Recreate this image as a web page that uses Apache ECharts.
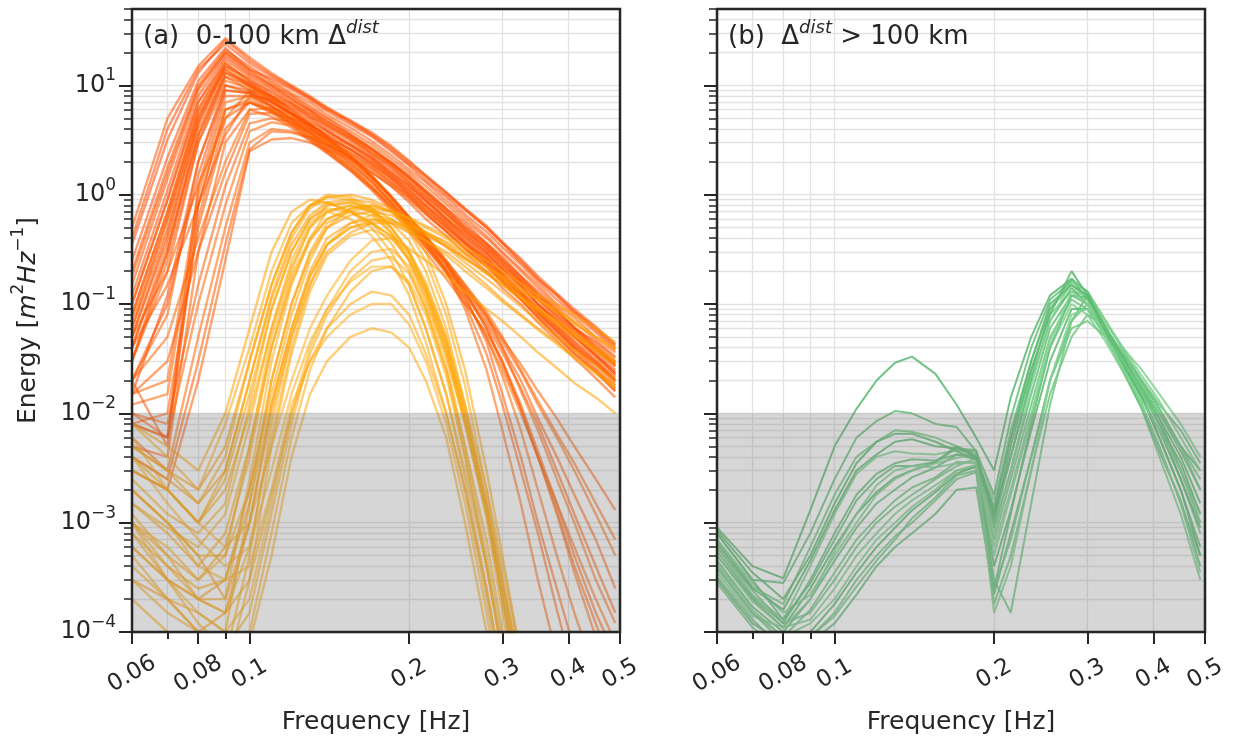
<!DOCTYPE html>
<html>
<head>
<meta charset="utf-8">
<script src="https://cdn.jsdelivr.net/npm/echarts@6/dist/echarts.min.js"></script>
<style>
  html, body { margin: 0; padding: 0; background: #ffffff; }
  #chart { width: 1233px; height: 740px; }
</style>
</head>
<body>
<div id="chart"></div>
<script>
// Frequency bins shared by every spectrum [Hz]
const FREQ = [0.06, 0.07, 0.08, 0.09, 0.1, 0.11, 0.12, 0.13, 0.14, 0.155, 0.17, 0.185,
              0.2, 0.215, 0.235, 0.255, 0.28, 0.3, 0.325, 0.35, 0.38, 0.41, 0.45, 0.49];

// Axis ticks
const X_MAJOR = [0.06, 0.08, 0.1, 0.2, 0.3, 0.4, 0.5];
const X_MINOR = [0.07, 0.09];
const Y_MAJOR = [1e-4, 1e-3, 1e-2, 1e-1, 1, 10];

// Panel (a), 0-100 km: energy density [m^2/Hz] per frequency bin
// wind sea peaking at 0.09 Hz
const windSeaSharp = [
  [0.35, 3.2, 13, 26, 17, 12.5, 9.8, 7.6, 6.2, 4.6, 3.5, 2.6, 1.9, 1.45, 1.0, 0.72, 0.5, 0.36, 0.24, 0.17, 0.12, 0.085, 0.058, 0.04],
  [0.2, 1.8, 10, 21, 15, 11, 8.5, 7, 5.4, 4.1, 3.1, 2.3, 1.7, 1.3, 0.88, 0.62, 0.42, 0.3, 0.21, 0.15, 0.1, 0.075, 0.05, 0.036],
  [0.12, 1.1, 8, 19, 13, 10, 8, 6.2, 5, 3.6, 2.7, 2.0, 1.5, 1.1, 0.75, 0.55, 0.36, 0.27, 0.18, 0.13, 0.09, 0.06, 0.045, 0.032],
  [0.08, 0.7, 6, 17, 12, 9.2, 7.2, 5.8, 4.4, 3.3, 2.4, 1.8, 1.3, 0.95, 0.66, 0.47, 0.32, 0.23, 0.16, 0.11, 0.078, 0.055, 0.038, 0.027],
  [0.05, 0.4, 4.5, 15, 11.5, 8.5, 6.8, 5.2, 4.1, 3.1, 2.3, 1.7, 1.25, 0.9, 0.6, 0.44, 0.3, 0.21, 0.15, 0.1, 0.07, 0.05, 0.034, 0.024],
  [0.03, 0.25, 3, 12, 10, 7.8, 6, 4.8, 3.8, 2.8, 2.1, 1.5, 1.1, 0.8, 0.55, 0.38, 0.26, 0.19, 0.13, 0.09, 0.063, 0.045, 0.03, 0.021],
  [0.015, 0.12, 2, 10, 9, 7, 5.6, 4.4, 3.4, 2.6, 1.9, 1.4, 1.0, 0.72, 0.5, 0.36, 0.24, 0.17, 0.12, 0.082, 0.057, 0.04, 0.028, 0.02],
  [0.008, 0.006, 1.2, 8, 8, 6.5, 5, 4, 3.2, 2.4, 1.8, 1.3, 0.95, 0.68, 0.46, 0.32, 0.22, 0.16, 0.11, 0.075, 0.05, 0.035, 0.024, 0.016],
  [0.25, 2.2, 11, 22, 14, 11.5, 9.2, 7.4, 5.8, 4.4, 3.4, 2.5, 1.85, 1.35, 0.95, 0.66, 0.46, 0.33, 0.23, 0.16, 0.11, 0.08, 0.055, 0.038],
  [0.02, 0.005, 0.8, 6, 7, 6, 4.7, 3.7, 2.9, 2.2, 1.6, 1.2, 0.85, 0.6, 0.42, 0.29, 0.2, 0.14, 0.1, 0.068, 0.046, 0.032, 0.021, 0.014],
  [0.4, 4, 14, 24, 16, 12, 9.5, 7.8, 6.0, 4.7, 3.6, 2.7, 2.0, 1.5, 1.05, 0.75, 0.52, 0.37, 0.26, 0.18, 0.125, 0.09, 0.062, 0.043],
  [0.15, 1.4, 9, 20, 14, 10.5, 8.2, 6.5, 5.1, 3.8, 2.9, 2.15, 1.6, 1.2, 0.82, 0.58, 0.4, 0.29, 0.2, 0.14, 0.095, 0.068, 0.047, 0.033],
  [0.1, 0.9, 7, 18, 12.5, 9.6, 7.5, 5.9, 4.7, 3.5, 2.6, 1.95, 1.45, 1.05, 0.72, 0.5, 0.35, 0.25, 0.17, 0.12, 0.085, 0.06, 0.041, 0.029],
  [0.06, 0.5, 5, 16, 11, 8.8, 6.9, 5.5, 4.3, 3.2, 2.4, 1.8, 1.3, 0.97, 0.67, 0.47, 0.33, 0.24, 0.16, 0.115, 0.08, 0.057, 0.039, 0.027],
  [0.04, 0.3, 3.5, 13, 10.5, 8, 6.3, 5, 3.9, 2.9, 2.2, 1.6, 1.2, 0.88, 0.6, 0.42, 0.29, 0.21, 0.145, 0.1, 0.07, 0.05, 0.034, 0.023],
  [0.5, 5, 15, 27, 18, 13, 10, 8, 6.3, 4.8, 3.7, 2.8, 2.05, 1.5, 1.05, 0.74, 0.5, 0.36, 0.25, 0.17, 0.12, 0.085, 0.06, 0.042],
  [0.02, 0.1, 1.5, 9, 8.5, 7, 5.5, 4.4, 3.5, 2.6, 1.95, 1.45, 1.05, 0.78, 0.53, 0.37, 0.26, 0.18, 0.125, 0.086, 0.06, 0.042, 0.029, 0.02],
  [0.18, 1.6, 9.5, 20, 13.5, 10, 7.6, 6, 4.7, 3.5, 2.6, 1.9, 1.4, 1.0, 0.68, 0.47, 0.32, 0.23, 0.16, 0.11, 0.075, 0.053, 0.036, 0.025]
];

// wind sea peaking at 0.10-0.11 Hz
const windSeaBroad = [
  [0.04, 0.15, 0.8, 3.5, 8, 7.5, 6.5, 5.2, 4.3, 3.3, 2.5, 1.9, 1.4, 1.05, 0.72, 0.5, 0.34, 0.25, 0.17, 0.12, 0.085, 0.06, 0.04, 0.028],
  [0.02, 0.05, 0.4, 2, 6, 6.2, 5.5, 4.6, 3.8, 2.9, 2.2, 1.6, 1.2, 0.9, 0.62, 0.44, 0.3, 0.22, 0.15, 0.1, 0.072, 0.05, 0.034, 0.023],
  [0.01, 0.008, 0.15, 1.2, 4.5, 5, 4.6, 3.9, 3.3, 2.6, 2.0, 1.5, 1.1, 0.8, 0.56, 0.4, 0.27, 0.19, 0.13, 0.09, 0.062, 0.043, 0.03, 0.02],
  [0.006, 0.003, 0.05, 0.5, 3, 4, 3.8, 3.4, 2.9, 2.3, 1.75, 1.3, 0.98, 0.72, 0.5, 0.35, 0.24, 0.17, 0.12, 0.082, 0.056, 0.039, 0.026, 0.018],
  [0.003, 0.002, 0.02, 0.25, 2.5, 3.2, 3.3, 3, 2.6, 2.1, 1.6, 1.2, 0.9, 0.66, 0.46, 0.32, 0.22, 0.16, 0.11, 0.075, 0.05, 0.035, 0.024, 0.016],
  [0.05, 0.2, 1.2, 5, 9, 8, 6.8, 5.5, 4.5, 3.4, 2.6, 1.95, 1.45, 1.08, 0.75, 0.52, 0.36, 0.26, 0.18, 0.125, 0.088, 0.062, 0.043, 0.03],
  [0.015, 0.03, 0.3, 1.6, 5.5, 5.6, 5, 4.3, 3.6, 2.8, 2.1, 1.55, 1.15, 0.85, 0.58, 0.41, 0.28, 0.2, 0.14, 0.095, 0.066, 0.046, 0.032, 0.022],
  [0.008, 0.006, 0.1, 0.8, 3.8, 4.6, 4.3, 3.7, 3.1, 2.45, 1.85, 1.4, 1.02, 0.75, 0.52, 0.36, 0.25, 0.18, 0.125, 0.085, 0.058, 0.04, 0.028, 0.019],
  [0.004, 0.0025, 0.03, 0.35, 2.6, 3.8, 3.7, 3.3, 2.8, 2.2, 1.7, 1.25, 0.94, 0.68, 0.47, 0.33, 0.23, 0.16, 0.11, 0.078, 0.053, 0.037, 0.025, 0.017]
];

// wind sea whose high-frequency tail collapses
const windSeaShortTail = [
  [0.1, 0.9, 7, 16, 11, 8, 6, 4.5, 3.4, 2.3, 1.5, 0.95, 0.6, 0.38, 0.2, 0.09, 0.025, 0.007, 1.5e-3, 3e-4, 6e-5, 3e-5, 1e-5, 5e-6],
  [0.03, 0.3, 4, 12, 9, 6.5, 5, 3.8, 2.9, 2, 1.35, 0.85, 0.55, 0.36, 0.2, 0.1, 0.035, 0.012, 3e-3, 8e-4, 1.6e-4, 4e-5, 1e-5, 5e-6],
  [0.015, 0.02, 1, 7, 8, 6, 4.6, 3.5, 2.6, 1.8, 1.2, 0.8, 0.5, 0.33, 0.19, 0.11, 0.05, 0.022, 7e-3, 2e-3, 5e-4, 1.5e-4, 4e-5, 1e-5],
  [0.005, 0.004, 0.3, 3, 6, 5.2, 4.1, 3.1, 2.4, 1.65, 1.1, 0.72, 0.46, 0.3, 0.17, 0.1, 0.055, 0.03, 0.012, 4.5e-3, 1.5e-3, 5e-4, 1.5e-4, 6e-5],
  [0.06, 0.6, 5, 14, 10, 7.5, 5.5, 4.2, 3.2, 2.2, 1.45, 0.95, 0.62, 0.42, 0.25, 0.15, 0.08, 0.04, 0.016, 7e-3, 2.5e-3, 1e-3, 3e-4, 1.2e-4],
  [0.008, 0.01, 0.5, 4, 7, 5.8, 4.4, 3.3, 2.5, 1.7, 1.15, 0.78, 0.52, 0.35, 0.21, 0.13, 0.07, 0.04, 0.02, 9e-3, 4e-3, 1.8e-3, 7e-4, 2.5e-4],
  [0.04, 0.35, 3.5, 11, 9.5, 7, 5.3, 4, 3, 2.1, 1.4, 0.92, 0.6, 0.4, 0.24, 0.14, 0.075, 0.045, 0.024, 0.012, 6e-3, 3e-3, 1.2e-3, 5e-4],
  [0.08, 0.7, 6, 15, 10.5, 7.8, 5.8, 4.4, 3.3, 2.25, 1.5, 0.98, 0.63, 0.41, 0.23, 0.12, 0.045, 0.015, 4e-3, 1e-3, 2.5e-4, 7e-5, 2e-5, 5e-6],
  [0.02, 0.08, 2, 9, 8.5, 6.3, 4.8, 3.6, 2.7, 1.9, 1.3, 0.85, 0.55, 0.37, 0.22, 0.13, 0.06, 0.03, 0.011, 4e-3, 1.2e-3, 3.5e-4, 9e-5, 3e-5],
  [0.01, 0.006, 0.6, 5, 7, 5.6, 4.3, 3.2, 2.45, 1.7, 1.15, 0.76, 0.5, 0.33, 0.2, 0.12, 0.065, 0.036, 0.017, 8e-3, 3e-3, 1.2e-3, 4e-4, 1.5e-4],
  [0.05, 0.45, 4.5, 13, 9.8, 7.2, 5.4, 4.1, 3.1, 2.15, 1.45, 0.95, 0.62, 0.42, 0.25, 0.15, 0.085, 0.05, 0.025, 0.013, 6.5e-3, 3.5e-3, 1.5e-3, 7e-4],
  [0.03, 0.2, 3, 10, 8.5, 6.4, 4.9, 3.7, 2.8, 1.95, 1.3, 0.86, 0.56, 0.38, 0.23, 0.14, 0.078, 0.048, 0.028, 0.016, 9e-3, 5e-3, 2.5e-3, 1.3e-3],
  [0.012, 0.015, 0.8, 6, 7.5, 5.8, 4.5, 3.4, 2.6, 1.8, 1.2, 0.8, 0.52, 0.35, 0.2, 0.11, 0.05, 0.025, 0.01, 4e-3, 1.5e-3, 6e-4, 2e-4, 8e-5],
  [0.07, 0.6, 5.5, 14, 10, 7.4, 5.5, 4.2, 3.2, 2.2, 1.45, 0.95, 0.62, 0.41, 0.24, 0.13, 0.06, 0.028, 0.011, 4e-3, 1.3e-3, 4e-4, 1.2e-4, 4e-5]
];

// swell with a wind-sea tail
const swellMixed = [
  [5e-3, 3e-3, 2e-3, 5e-3, 0.03, 0.15, 0.45, 0.8, 0.95, 1.0, 0.9, 0.75, 0.6, 0.45, 0.33, 0.24, 0.17, 0.13, 0.095, 0.07, 0.05, 0.038, 0.028, 0.02],
  [1e-3, 5e-4, 3e-4, 6e-4, 4e-3, 0.04, 0.18, 0.4, 0.6, 0.75, 0.8, 0.7, 0.6, 0.5, 0.4, 0.3, 0.22, 0.17, 0.13, 0.11, 0.09, 0.07, 0.05, 0.04],
  [2e-3, 1e-3, 5e-4, 2e-4, 1e-3, 0.01, 0.05, 0.15, 0.3, 0.45, 0.55, 0.55, 0.5, 0.42, 0.34, 0.26, 0.2, 0.16, 0.12, 0.09, 0.07, 0.052, 0.038, 0.03],
  [8e-3, 5e-3, 3e-3, 0.01, 0.06, 0.3, 0.7, 0.9, 0.85, 0.7, 0.55, 0.42, 0.32, 0.25, 0.18, 0.13, 0.09, 0.07, 0.05, 0.036, 0.026, 0.019, 0.014, 0.01],
  [3e-4, 2e-4, 1e-4, 1.5e-4, 1e-3, 0.012, 0.06, 0.2, 0.4, 0.55, 0.6, 0.55, 0.45, 0.38, 0.3, 0.22, 0.15, 0.11, 0.08, 0.06, 0.045, 0.033, 0.024, 0.018],
  [3e-3, 2e-3, 1e-3, 2.5e-3, 0.015, 0.09, 0.3, 0.6, 0.8, 0.85, 0.75, 0.6, 0.48, 0.38, 0.28, 0.2, 0.14, 0.105, 0.078, 0.058, 0.043, 0.032, 0.023, 0.017],
  [6e-4, 3e-4, 2e-4, 3e-4, 2e-3, 0.02, 0.1, 0.28, 0.5, 0.65, 0.7, 0.65, 0.55, 0.46, 0.36, 0.27, 0.19, 0.15, 0.11, 0.085, 0.065, 0.05, 0.037, 0.028],
  [1.5e-3, 8e-4, 4e-4, 8e-4, 5e-3, 0.04, 0.16, 0.38, 0.6, 0.72, 0.75, 0.7, 0.62, 0.52, 0.42, 0.33, 0.25, 0.2, 0.155, 0.12, 0.1, 0.08, 0.06, 0.045],
  [4e-3, 2.5e-3, 1.5e-3, 3e-3, 0.02, 0.11, 0.35, 0.65, 0.85, 0.9, 0.85, 0.7, 0.55, 0.44, 0.34, 0.26, 0.19, 0.15, 0.115, 0.09, 0.07, 0.055, 0.04, 0.03],
  [8e-4, 4e-4, 2.5e-4, 3e-4, 1.5e-3, 0.012, 0.06, 0.18, 0.35, 0.5, 0.58, 0.58, 0.52, 0.45, 0.37, 0.29, 0.22, 0.18, 0.14, 0.11, 0.085, 0.066, 0.05, 0.038]
];

// swell peaking at 0.13-0.185 Hz
const swellMain = [
  [3e-3, 2e-3, 1e-3, 3e-3, 0.02, 0.12, 0.4, 0.75, 0.95, 0.9, 0.7, 0.45, 0.25, 0.11, 0.035, 8e-3, 1.2e-3, 2.5e-4, 4e-5, 1e-5, 5e-6, 5e-6, 5e-6, 5e-6],
  [1e-3, 6e-4, 3e-4, 5e-4, 5e-3, 0.05, 0.2, 0.5, 0.8, 0.85, 0.75, 0.5, 0.3, 0.15, 0.05, 0.012, 2e-3, 4e-4, 6e-5, 1e-5, 5e-6, 5e-6, 5e-6, 5e-6],
  [4e-4, 2e-4, 1.5e-4, 1e-4, 1.5e-3, 0.02, 0.1, 0.3, 0.55, 0.7, 0.65, 0.45, 0.28, 0.13, 0.04, 9e-3, 1.3e-3, 2e-4, 3e-5, 5e-6, 5e-6, 5e-6, 5e-6, 5e-6],
  [8e-3, 4e-3, 2e-3, 8e-3, 0.04, 0.2, 0.55, 0.8, 0.85, 0.7, 0.5, 0.3, 0.15, 0.06, 0.015, 3e-3, 4e-4, 7e-5, 1e-5, 5e-6, 5e-6, 5e-6, 5e-6, 5e-6],
  [2e-4, 1e-4, 5e-5, 6e-5, 5e-4, 8e-3, 0.05, 0.18, 0.35, 0.5, 0.55, 0.42, 0.25, 0.12, 0.035, 8e-3, 1.1e-3, 1.5e-4, 2e-5, 5e-6, 5e-6, 5e-6, 5e-6, 5e-6],
  [1.5e-3, 9e-4, 6e-4, 1.2e-3, 8e-3, 0.06, 0.25, 0.55, 0.7, 0.6, 0.42, 0.25, 0.12, 0.045, 0.01, 2e-3, 2.5e-4, 4e-5, 5e-6, 5e-6, 5e-6, 5e-6, 5e-6, 5e-6],
  [5e-3, 3e-3, 1.5e-3, 4e-3, 0.03, 0.15, 0.45, 0.8, 1.0, 0.95, 0.75, 0.5, 0.3, 0.14, 0.045, 0.01, 1.5e-3, 3e-4, 5e-5, 1e-5, 5e-6, 5e-6, 5e-6, 5e-6],
  [6e-4, 3e-4, 2e-4, 2e-4, 2.5e-3, 0.03, 0.15, 0.4, 0.7, 0.8, 0.7, 0.5, 0.3, 0.14, 0.045, 0.01, 1.5e-3, 2.5e-4, 4e-5, 5e-6, 5e-6, 5e-6, 5e-6, 5e-6],
  [2.5e-3, 1.2e-3, 8e-4, 1.5e-3, 0.012, 0.09, 0.3, 0.6, 0.75, 0.7, 0.55, 0.36, 0.2, 0.09, 0.025, 5e-3, 7e-4, 1e-4, 1.5e-5, 5e-6, 5e-6, 5e-6, 5e-6, 5e-6],
  [1e-4, 6e-5, 4e-5, 4e-5, 3e-4, 5e-3, 0.035, 0.13, 0.28, 0.42, 0.48, 0.4, 0.26, 0.13, 0.04, 9e-3, 1.3e-3, 2e-4, 3e-5, 5e-6, 5e-6, 5e-6, 5e-6, 5e-6],
  [2e-3, 1e-3, 5e-4, 5e-4, 2e-3, 0.015, 0.08, 0.25, 0.5, 0.75, 0.8, 0.7, 0.5, 0.3, 0.1, 0.025, 3e-3, 5e-4, 6e-5, 1e-5, 5e-6, 5e-6, 5e-6, 5e-6],
  [1e-3, 4e-4, 2e-4, 1.5e-4, 6e-4, 6e-3, 0.04, 0.15, 0.35, 0.55, 0.65, 0.6, 0.45, 0.25, 0.08, 0.018, 2e-3, 3e-4, 4e-5, 5e-6, 5e-6, 5e-6, 5e-6, 5e-6],
  [4e-3, 2e-3, 1e-3, 2e-3, 0.01, 0.06, 0.22, 0.5, 0.7, 0.8, 0.7, 0.55, 0.38, 0.2, 0.06, 0.012, 1.5e-3, 2e-4, 3e-5, 5e-6, 5e-6, 5e-6, 5e-6, 5e-6]
];

// weaker swell peaking near 0.17-0.185 Hz
const swellLate = [
  [1e-3, 3e-4, 1.5e-4, 1e-4, 2e-4, 1.5e-3, 0.01, 0.04, 0.09, 0.2, 0.3, 0.32, 0.22, 0.1, 0.03, 5e-3, 5e-4, 8e-5, 1e-5, 5e-6, 5e-6, 5e-6, 5e-6, 5e-6],
  [5e-4, 2e-4, 1e-4, 5e-5, 1e-4, 8e-4, 6e-3, 0.025, 0.06, 0.13, 0.2, 0.22, 0.15, 0.06, 0.015, 2.5e-3, 2.5e-4, 4e-5, 5e-6, 5e-6, 5e-6, 5e-6, 5e-6, 5e-6],
  [2e-3, 1e-3, 4e-4, 3e-4, 4e-4, 2e-3, 0.012, 0.03, 0.05, 0.08, 0.1, 0.1, 0.065, 0.03, 8e-3, 1.5e-3, 1.5e-4, 2e-5, 5e-6, 5e-6, 5e-6, 5e-6, 5e-6, 5e-6],
  [3e-4, 1.5e-4, 1e-4, 6e-5, 8e-5, 5e-4, 4e-3, 0.015, 0.03, 0.05, 0.06, 0.055, 0.04, 0.02, 6e-3, 1e-3, 1e-4, 1e-5, 5e-6, 5e-6, 5e-6, 5e-6, 5e-6, 5e-6],
  [6e-3, 2e-3, 1e-3, 6e-4, 1e-3, 5e-3, 0.02, 0.06, 0.12, 0.25, 0.38, 0.4, 0.3, 0.16, 0.05, 0.01, 1.3e-3, 2e-4, 2e-5, 5e-6, 5e-6, 5e-6, 5e-6, 5e-6],
  [8e-4, 3e-4, 1.2e-4, 7e-5, 1.5e-4, 1.2e-3, 8e-3, 0.035, 0.08, 0.17, 0.25, 0.27, 0.19, 0.09, 0.025, 4e-3, 4e-4, 6e-5, 1e-5, 5e-6, 5e-6, 5e-6, 5e-6, 5e-6],
  [4e-3, 1.5e-3, 7e-4, 4e-4, 6e-4, 3e-3, 0.015, 0.045, 0.09, 0.16, 0.22, 0.22, 0.16, 0.08, 0.022, 4e-3, 4e-4, 6e-5, 1e-5, 5e-6, 5e-6, 5e-6, 5e-6, 5e-6],
  [1.2e-3, 5e-4, 2e-4, 1.5e-4, 3e-4, 1.8e-3, 0.01, 0.03, 0.06, 0.1, 0.13, 0.12, 0.08, 0.035, 0.01, 2e-3, 2e-4, 3e-5, 5e-6, 5e-6, 5e-6, 5e-6, 5e-6, 5e-6]
];

// Panel (b), beyond 100 km
const remoteSpectra = [
  [9e-4, 4e-4, 3.1e-4, 1.3e-3, 5e-3, 1.1e-2, 2e-2, 2.9e-2, 3.3e-2, 2.3e-2, 1.2e-2, 6e-3, 3e-3, 1.4e-2, 5e-2, 1.2e-1, 1.7e-1, 1.1e-1, 6e-2, 3.5e-2, 1.9e-2, 1.1e-2, 5e-3, 3e-3],
  [8e-4, 3e-4, 2.8e-4, 8e-4, 2.5e-3, 6e-3, 8.5e-3, 1.05e-2, 1e-2, 8e-3, 7.5e-3, 4.5e-3, 1.8e-3, 9e-3, 4e-2, 1.1e-1, 1.6e-1, 1.3e-1, 7e-2, 3.8e-2, 2e-2, 1.2e-2, 7e-3, 3.5e-3],
  [7e-4, 2.6e-4, 1.8e-4, 6e-4, 1.8e-3, 4e-3, 5.5e-3, 7e-3, 6.8e-3, 6e-3, 5e-3, 4e-3, 1.4e-3, 7e-3, 3e-2, 9e-2, 1.5e-1, 1.1e-1, 6e-2, 3e-2, 1.5e-2, 8e-3, 2.5e-3, 8e-4],
  [6e-4, 2.2e-4, 1.3e-4, 4e-4, 1.2e-3, 2.8e-3, 4e-3, 4.5e-3, 4.3e-3, 4.2e-3, 4.6e-3, 4.5e-3, 1.6e-3, 6e-3, 2.5e-2, 8e-2, 1.3e-1, 1.2e-1, 6.5e-2, 4e-2, 2.2e-2, 1.3e-2, 6e-3, 3e-3],
  [5e-4, 2e-4, 1.1e-4, 2.5e-4, 6e-4, 1.2e-3, 1.9e-3, 2.6e-3, 3e-3, 3.6e-3, 5e-3, 4.2e-3, 1.2e-3, 4e-3, 2e-2, 7e-2, 1.4e-1, 1e-1, 5.5e-2, 3e-2, 1.6e-2, 9e-3, 4e-3, 1.5e-3],
  [4.5e-4, 1.7e-4, 1e-4, 2e-4, 4.5e-4, 9e-4, 1.5e-3, 2e-3, 2.6e-3, 3.2e-3, 4.2e-3, 3.8e-3, 9e-4, 3e-3, 1.5e-2, 6e-2, 1.2e-1, 1.15e-1, 6e-2, 3.2e-2, 1.7e-2, 1e-2, 4.5e-3, 2e-3],
  [4e-4, 1.5e-4, 9e-5, 1.6e-4, 3.5e-4, 7e-4, 1.1e-3, 1.6e-3, 2.1e-3, 2.6e-3, 3.6e-3, 3.5e-3, 7e-4, 2.5e-3, 1.2e-2, 5e-2, 1.1e-1, 9e-2, 5e-2, 2.6e-2, 1.2e-2, 5e-3, 1.5e-3, 5e-4],
  [3.5e-4, 1.4e-4, 1.1e-4, 1.3e-4, 2.5e-4, 5e-4, 8e-4, 1.2e-3, 1.6e-3, 2.2e-3, 3e-3, 3.2e-3, 5e-4, 1.8e-3, 9e-3, 4e-2, 1e-1, 8e-2, 4.5e-2, 2.4e-2, 1.1e-2, 4e-3, 1.2e-3, 3e-4],
  [3e-4, 1.2e-4, 8e-5, 1e-4, 1.8e-4, 3.5e-4, 6e-4, 9e-4, 1.3e-3, 1.9e-3, 2.8e-3, 3.3e-3, 4e-4, 1.3e-3, 7e-3, 3e-2, 9e-2, 9e-2, 5e-2, 2.8e-2, 1.4e-2, 7e-3, 2.5e-3, 9e-4],
  [3.2e-4, 1.3e-4, 7e-5, 8e-5, 1.2e-4, 2.2e-4, 4e-4, 6e-4, 8e-4, 1.2e-3, 2e-3, 2.1e-3, 2.2e-4, 8e-4, 4e-3, 2e-2, 7e-2, 1.2e-1, 6e-2, 3e-2, 1.4e-2, 6e-3, 2e-3, 6e-4],
  [6e-4, 2.4e-4, 1.2e-4, 1.5e-4, 3e-4, 6e-4, 1e-3, 1.4e-3, 1.8e-3, 2.5e-3, 3.3e-3, 3.9e-3, 3e-4, 1.5e-4, 1.5e-3, 1.2e-2, 7e-2, 1e-1, 5.5e-2, 3.3e-2, 1.8e-2, 1e-2, 5e-3, 2.5e-3],
  [7e-4, 2.8e-4, 1.5e-4, 2.2e-4, 5e-4, 1e-3, 1.8e-3, 2.5e-3, 3e-3, 3.5e-3, 3.9e-3, 4.3e-3, 8e-4, 3e-3, 1.8e-2, 7e-2, 1.6e-1, 1.3e-1, 7e-2, 4e-2, 2.5e-2, 1.5e-2, 8e-3, 4e-3],
  [8.5e-4, 3.5e-4, 2e-4, 5e-4, 1.5e-3, 3.5e-3, 5.5e-3, 6.5e-3, 6.5e-3, 5.5e-3, 4.5e-3, 3.8e-3, 1.1e-3, 5e-3, 2.5e-2, 8e-2, 2e-1, 1.2e-1, 5.5e-2, 2.8e-2, 1.4e-2, 6e-3, 2e-3, 5e-4],
  [5.5e-4, 2.1e-4, 1.2e-4, 3e-4, 8e-4, 1.8e-3, 2.8e-3, 3.5e-3, 3.8e-3, 3.7e-3, 4.2e-3, 4e-3, 2.5e-4, 1.2e-3, 8e-3, 4e-2, 1.2e-1, 1e-1, 5e-2, 2.5e-2, 1.1e-2, 4.5e-3, 1.6e-3, 4e-4],
  [3.8e-4, 1.5e-4, 8e-5, 9e-5, 1.5e-4, 3e-4, 5e-4, 7.5e-4, 1e-3, 1.6e-3, 2.5e-3, 2.9e-3, 1.8e-4, 5e-4, 3e-3, 1.5e-2, 5e-2, 8e-2, 6e-2, 3.5e-2, 2e-2, 1.1e-2, 5e-3, 2e-3],
  [4.2e-4, 1.6e-4, 9e-5, 1.2e-4, 2e-4, 4e-4, 7e-4, 1e-3, 1.4e-3, 2e-3, 3e-3, 3.4e-3, 6e-4, 2e-3, 1e-2, 4.5e-2, 1.3e-1, 1e-1, 5e-2, 2.6e-2, 1.2e-2, 5e-3, 1.5e-3, 3.5e-4],
  [6.5e-4, 2.5e-4, 1.6e-4, 4.5e-4, 1.3e-3, 3e-3, 4.2e-3, 5.5e-3, 5.8e-3, 5e-3, 4.8e-3, 4e-3, 1.3e-3, 6e-3, 3e-2, 1e-1, 1.5e-1, 1.2e-1, 6e-2, 3.3e-2, 1.6e-2, 8e-3, 3.5e-3, 1.2e-3],
  [8e-4, 3e-4, 1.3e-4, 2.8e-4, 7e-4, 1.6e-3, 2.5e-3, 3.3e-3, 3.3e-3, 3.6e-3, 4.8e-3, 4.6e-3, 1e-3, 4e-3, 2.2e-2, 9e-2, 1.7e-1, 1.3e-1, 6e-2, 3e-2, 1.7e-2, 9e-3, 3e-3, 1e-3],
  [2.8e-4, 1.1e-4, 7e-5, 9e-5, 1.4e-4, 2.6e-4, 4.5e-4, 7e-4, 1.1e-3, 1.7e-3, 2.7e-3, 3e-3, 2.5e-4, 7e-4, 4e-3, 2e-2, 6e-2, 7e-2, 5e-2, 3e-2, 1.6e-2, 8e-3, 3e-3, 1.2e-3],
  [5e-4, 1.9e-4, 1.1e-4, 2e-4, 5.5e-4, 1.2e-3, 2.2e-3, 3e-3, 3.3e-3, 3.2e-3, 3.5e-3, 3.6e-3, 1.5e-4, 4e-4, 3e-3, 2e-2, 8e-2, 9e-2, 5e-2, 2.6e-2, 1.3e-2, 7e-3, 3e-3, 1e-3]
];

const INK = '#262626';
const FONT = 'DejaVu Sans';
const GRID_COLOR = '#e2e2e2';

// minor log ticks 2..9 per decade, up to the 50 m^2/Hz ceiling
const Y_MINOR = [];
for (let e = -4; e <= 1; e++) {
  for (let m = 2; m <= 9; m++) {
    const v = m * Math.pow(10, e);
    if (v <= 50) Y_MINOR.push(+v.toPrecision(3));
  }
}

const PANELS = [
  { left: 132, top: 9, width: 488, height: 623 },
  { left: 717, top: 9, width: 488, height: 623 }
];

function powLabel(v) {
  const e = Math.round(Math.log10(v));
  return '{b|10}{s|' + String(e).replace('-', '\u2212') + '}';
}

function xAxes(g) {
  const common = {
    gridIndex: g, type: 'log', logBase: 10, min: 0.06, max: 0.5, position: 'bottom',
    axisLine: { show: false },
    splitLine: { show: true, lineStyle: { color: GRID_COLOR, width: 1.3 } },
    minorTick: { show: false }, minorSplitLine: { show: false }
  };
  return [
    Object.assign({}, common, {
      axisTick: { show: true, inside: false, length: 12, customValues: X_MAJOR, lineStyle: { color: INK, width: 2 } },
      axisLabel: {
        show: true, customValues: X_MAJOR, rotate: 30, align: 'center', verticalAlign: 'middle',
        margin: 42, fontSize: 23, color: INK, fontFamily: FONT, showMinLabel: true, showMaxLabel: true,
        formatter: v => String(parseFloat(Number(v).toPrecision(4)))
      },
      name: 'Frequency [Hz]', nameLocation: 'middle', nameGap: 78,
      nameTextStyle: { fontSize: 25, color: INK, fontFamily: FONT }
    }),
    Object.assign({}, common, {
      axisTick: { show: true, inside: false, length: 7, customValues: X_MINOR, lineStyle: { color: INK, width: 2 } },
      axisLabel: { show: false, customValues: X_MINOR }
    })
  ];
}

function yAxes(g) {
  const common = {
    gridIndex: g, type: 'log', logBase: 10, min: 1e-4, max: 50, position: 'left',
    axisLine: { show: false },
    splitLine: { show: true, lineStyle: { color: GRID_COLOR, width: 1.3 } },
    minorTick: { show: false }, minorSplitLine: { show: false }
  };
  const major = Object.assign({}, common, {
    axisTick: { show: true, inside: false, length: 13, customValues: Y_MAJOR, lineStyle: { color: INK, width: 2 } },
    axisLabel: {
      show: g === 0, customValues: Y_MAJOR, margin: 16, color: INK, fontFamily: FONT,
      formatter: powLabel,
      rich: {
        b: { fontSize: 24, lineHeight: 36, color: INK, fontFamily: FONT },
        s: { fontSize: 17, lineHeight: 18, verticalAlign: 'top', color: INK, fontFamily: FONT }
      }
    }
  });
  if (g === 0) {
    major.name = 'Energy [{i|m}{s|2}{i|Hz}{s|\u22121}]';
    major.nameLocation = 'middle';
    major.nameGap = 86;
    major.nameRotate = 90;
    major.nameTextStyle = {
      fontSize: 25, color: INK, fontFamily: FONT, lineHeight: 36,
      rich: {
        i: { fontSize: 25, fontStyle: 'italic', color: INK, fontFamily: FONT, lineHeight: 36 },
        s: { fontSize: 17, verticalAlign: 'top', lineHeight: 18, color: INK, fontFamily: FONT }
      }
    };
  }
  const minor = Object.assign({}, common, {
    axisTick: { show: true, inside: false, length: 8, customValues: Y_MINOR, lineStyle: { color: INK, width: 1.5 } },
    axisLabel: { show: false, customValues: Y_MINOR }
  });
  return [major, minor];
}

const series = [];
function addFamily(list, panel, colors, width, opacity) {
  list.forEach((spec, k) => {
    series.push({
      type: 'line',
      xAxisIndex: panel * 2, yAxisIndex: panel * 2,
      data: FREQ.map((f, i) => [f, spec[i]]),
      showSymbol: false, symbol: 'none', silent: true, z: 2,
      lineStyle: { color: colors[k % colors.length], width: width, opacity: opacity }
    });
  });
}

addFamily(windSeaShortTail, 0, ['#ff6400', '#ff5a00'], 2.4, 0.55);
addFamily(windSeaBroad, 0, ['#ff5a00', '#ff6600'], 2.4, 0.55);
addFamily(windSeaSharp, 0, ['#ff4a00', '#ff5500'], 2.4, 0.55);
addFamily(swellMixed, 0, ['#ff9800', '#ffa200'], 2.4, 0.55);
addFamily(swellMain, 0, ['#ffa500', '#ffaa10'], 2.4, 0.55);
addFamily(swellLate, 0, ['#ffae1a', '#ffa810'], 2.4, 0.55);
addFamily(remoteSpectra, 1, ['#5cb870', '#66c07a', '#72c984', '#80d291'], 2, 0.85);

// shaded band below 10^-2, drawn over the spectra
[0, 1].forEach(p => {
  series.push({
    type: 'line', xAxisIndex: p * 2, yAxisIndex: p * 2, data: [], silent: true, z: 10,
    markArea: {
      silent: true, z: 10,
      itemStyle: { color: 'rgba(128,128,128,0.32)' },
      data: [[{ yAxis: 1e-4 }, { yAxis: 1e-2 }]]
    }
  });
});

const titleRich = {
  s: { fontSize: 18, fontStyle: 'italic', verticalAlign: 'top', lineHeight: 18, color: INK, fontFamily: FONT }
};

const option = {
  backgroundColor: '#ffffff',
  animation: false,
  textStyle: { fontFamily: FONT, color: INK },
  title: [
    { text: '(a)  0-100 km \u0394{s|dist}', left: 138, top: 14,
      textStyle: { fontSize: 26, fontWeight: 'normal', color: INK, fontFamily: FONT, lineHeight: 36, rich: titleRich } },
    { text: '(b)  \u0394{s|dist} > 100 km', left: 723, top: 14,
      textStyle: { fontSize: 26, fontWeight: 'normal', color: INK, fontFamily: FONT, lineHeight: 36, rich: titleRich } }
  ],
  grid: PANELS.map(p => Object.assign({ containLabel: false }, p)),
  xAxis: xAxes(0).concat(xAxes(1)),
  yAxis: yAxes(0).concat(yAxes(1)),
  series: series,
  graphic: PANELS.map(p => ({
    type: 'rect', z: 100, silent: true,
    shape: { x: p.left, y: p.top, width: p.width, height: p.height },
    style: { fill: 'none', stroke: INK, lineWidth: 2.5 }
  }))
};

const chart = echarts.init(document.getElementById('chart'), null, { renderer: 'canvas' });
chart.setOption(option);
</script>
</body>
</html>
